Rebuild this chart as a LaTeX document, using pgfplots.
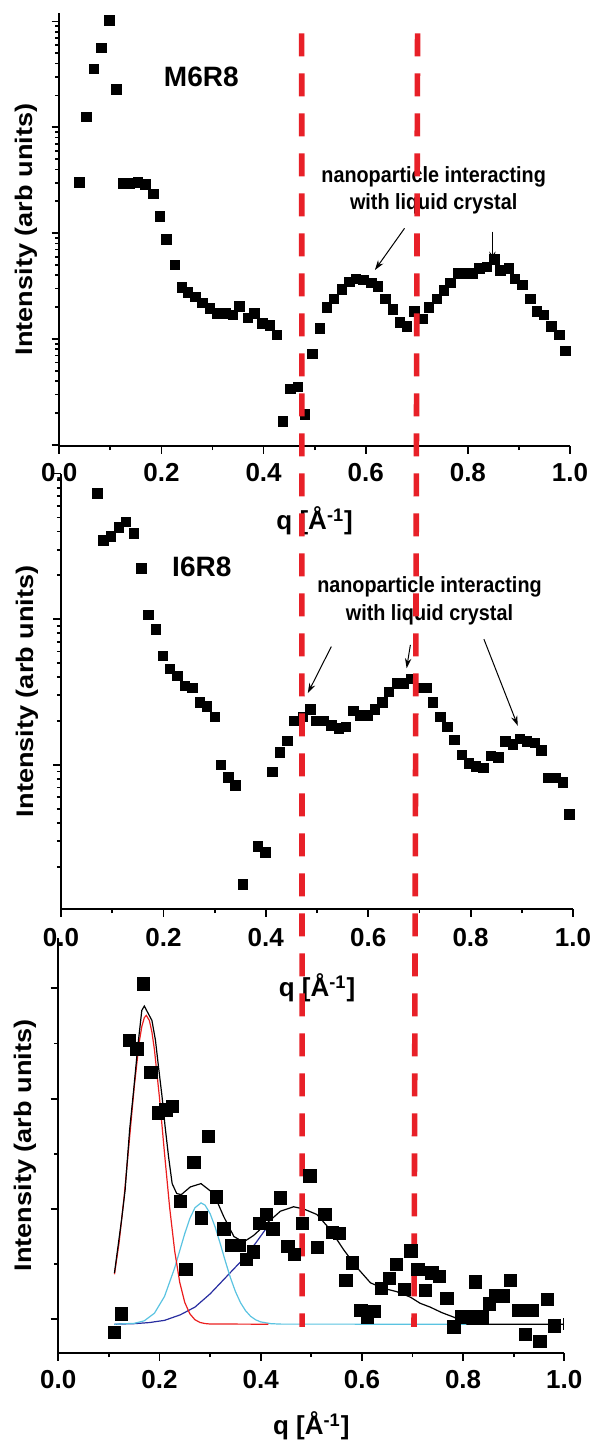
\documentclass[border=0pt]{standalone}
\usepackage{fontspec}
\setmainfont{Liberation Sans}
\newfontfamily\condfont[FakeStretch=0.9]{Liberation Sans}
\newfontfamily\widefont[FakeStretch=1.13]{Liberation Sans}
\usepackage{pgfplots}
\usepackage{pgfplotstable}
\pgfplotsset{compat=1.18}
\usetikzlibrary{arrows.meta}

\definecolor{dashred}{RGB}{232,32,40}
\definecolor{fitred}{RGB}{235,30,30}
\definecolor{fitcyan}{RGB}{90,195,225}
\definecolor{fitblue}{RGB}{40,45,160}

\newcommand{\TickFont}{\fontsize{13}{15}\selectfont\bfseries}
\newcommand{\NoteFont}{\condfont\fontsize{11}{13.6}\selectfont\bfseries}

\tikzset{
  note/.style={font=\NoteFont, align=center},
  pointer/.style={black, line width=0.5pt, -{Stealth[length=5pt, width=3.2pt]}},
}

\pgfplotsset{
  saxs panel/.style={
    scale only axis,
    xmin=0, xmax=1,
    axis x line*=bottom,
    axis y line*=left,
    axis line style={line width=0.9pt, -},
    tick style={line width=0.9pt, black},
    tick align=outside,
    major tick length=3.8pt,
    minor tick length=2.1pt,
    xtick={0,0.2,0.4,0.6,0.8,1},
    minor x tick num=1,
    xticklabel style={font=\TickFont, anchor=base, yshift=-14pt},
    /pgf/number format/fixed,
    /pgf/number format/precision=1,
    /pgf/number format/fixed zerofill,
    /pgf/number format/assume math mode=true,
    yticklabel={\relax},
    every axis x label/.style={at={(axis description cs:0.5,0)}, anchor=center,
      font=\fontsize{13}{15}\selectfont\bfseries},
    every axis y label/.style={at={(axis description cs:-0.065,0.5)}, rotate=90,
      anchor=center, font=\widefont\fontsize{12}{14}\selectfont\bfseries},
    xlabel={q [Å\textsuperscript{-1}]},
    ylabel={Intensity (arb units)},
    clip=false,
  },
}

% M6R8: q and log10 of intensity
\pgfplotstableread{
x l
0.039 1.48
0.053 2.10
0.068 2.55
0.082 2.75
0.098 3.01
0.112 2.36
0.125 1.47
0.138 1.47
0.154 1.48
0.169 1.46
0.184 1.37
0.197 1.16
0.210 0.94
0.226 0.70
0.240 0.49
0.252 0.44
0.266 0.40
0.280 0.34
0.295 0.29
0.310 0.24
0.325 0.24
0.340 0.23
0.353 0.31
0.369 0.20
0.382 0.24
0.398 0.15
0.412 0.13
0.426 0.04
0.438 -0.78
0.453 -0.47
0.467 -0.45
0.481 -0.71
0.496 -0.14
0.510 0.10
0.524 0.30
0.538 0.38
0.553 0.47
0.568 0.54
0.581 0.57
0.596 0.56
0.611 0.53
0.624 0.50
0.639 0.38
0.653 0.28
0.667 0.16
0.681 0.12
0.695 0.26
0.711 0.19
0.724 0.30
0.739 0.38
0.753 0.46
0.766 0.53
0.781 0.62
0.796 0.62
0.809 0.62
0.822 0.67
0.837 0.68
0.852 0.75
0.864 0.65
0.880 0.67
0.892 0.57
0.907 0.51
0.922 0.38
0.935 0.26
0.949 0.23
0.964 0.12
0.979 0.04
0.991 -0.11
}\mrdata

% I6R8: q and log10 of intensity
\pgfplotstableread{
x l
0.071 1.865
0.083 1.54
0.098 1.57
0.113 1.63
0.127 1.67
0.142 1.59
0.157 1.35
0.171 1.03
0.185 0.93
0.199 0.75
0.213 0.66
0.227 0.61
0.242 0.54
0.257 0.53
0.271 0.43
0.285 0.40
0.300 0.33
0.312 0.00
0.327 -0.085
0.341 -0.14
0.355 -0.82
0.385 -0.56
0.399 -0.60
0.413 -0.05
0.428 0.085
0.442 0.165
0.456 0.30
0.472 0.33
0.487 0.38
0.498 0.30
0.513 0.30
0.528 0.27
0.543 0.25
0.556 0.26
0.571 0.37
0.585 0.34
0.599 0.34
0.613 0.38
0.628 0.43
0.641 0.50
0.656 0.56
0.669 0.56
0.683 0.59
0.697 0.53
0.714 0.53
0.726 0.43
0.741 0.33
0.755 0.26
0.768 0.17
0.783 0.07
0.797 0.01
0.810 -0.01
0.825 -0.02
0.840 0.06
0.854 0.05
0.868 0.16
0.883 0.14
0.896 0.18
0.910 0.16
0.925 0.15
0.938 0.10
0.952 -0.09
0.966 -0.09
0.980 -0.12
0.993 -0.34
}\irdata

% third sample, linear intensity
\pgfplotstableread{
x y
0.111 -0.12
0.125 0.05
0.141 2.53
0.155 2.45
0.168 3.04
0.183 2.24
0.198 1.87
0.213 1.90
0.226 1.93
0.241 1.07
0.252 0.45
0.268 1.42
0.283 0.92
0.297 1.66
0.312 1.11
0.327 0.82
0.342 0.67
0.357 0.67
0.372 0.54
0.385 0.61
0.398 0.87
0.411 0.95
0.424 0.82
0.439 1.10
0.454 0.66
0.467 0.59
0.482 0.87
0.497 1.30
0.512 0.65
0.527 0.95
0.542 0.79
0.556 0.78
0.568 0.35
0.581 0.51
0.598 0.08
0.611 0.02
0.625 0.07
0.639 0.28
0.654 0.37
0.668 0.50
0.684 0.27
0.697 0.62
0.711 0.45
0.725 0.26
0.738 0.42
0.753 0.39
0.768 0.19
0.782 -0.07
0.797 0.02
0.812 0.02
0.824 0.34
0.838 0.02
0.852 0.14
0.865 0.21
0.880 0.21
0.894 0.35
0.909 0.08
0.923 -0.14
0.936 0.08
0.952 -0.20
0.966 0.18
0.980 -0.06
}\fitdata

\begin{document}
\begin{tikzpicture}
\useasboundingbox (0,0) rectangle (297pt,720pt);

% ---------------- M6R8 ----------------
\begin{axis}[saxs panel,
  at={(29.65pt,497pt)}, anchor=south west,
  width=255.35pt, height=216.5pt,
  ymin=-1.01, ymax=3.08,
  ytick={-1,0,1,2,3},
  minor ytick={-0.699,-0.523,-0.398,-0.301,-0.222,-0.155,-0.097,-0.046,
    0.301,0.477,0.602,0.699,0.778,0.845,0.903,0.954,
    1.301,1.477,1.602,1.699,1.778,1.845,1.903,1.954,
    2.301,2.477,2.602,2.699,2.778,2.845,2.903,2.954},
  xlabel style={yshift=-37.5pt},
]
\addplot[only marks, mark=square*, mark size=2.4pt, black] table[x=x, y=l] {\mrdata};
\node[font=\fontsize{14}{16}\selectfont\bfseries] at (axis cs:0.278,2.479) {M6R8};
\node[note] at (axis cs:0.733,1.405) {nanoparticle interacting\\with liquid crystal};
\draw[pointer] (axis cs:0.676,1.046) -- (axis cs:0.618,0.652);
\draw[pointer] (axis cs:0.848,1.014) -- (axis cs:0.848,0.731);
\end{axis}

% ---------------- I6R8 ----------------
\begin{axis}[saxs panel,
  at={(30.5pt,265.5pt)}, anchor=south west,
  width=256pt, height=217.7pt,
  ymin=-0.99, ymax=2,
  ytick={-1,0,1,2},
  minor ytick={-0.699,-0.523,-0.398,-0.301,-0.222,-0.155,-0.097,-0.046,
    0.301,0.477,0.602,0.699,0.778,0.845,0.903,0.954,
    1.301,1.477,1.602,1.699,1.778,1.845,1.903,1.954},
  xticklabel style={yshift=-1pt},
  xlabel style={yshift=-39.5pt},
]
\addplot[only marks, mark=square*, mark size=2.35pt, black] table[x=x, y=l] {\irdata};
\node[font=\fontsize{14}{16}\selectfont\bfseries] at (axis cs:0.275,1.361) {I6R8};
\node[note] at (axis cs:0.7197,1.127) {nanoparticle interacting\\with liquid crystal};
\draw[pointer] (axis cs:0.528,0.812) -- (axis cs:0.482,0.492);
\draw[pointer] (axis cs:0.6824,0.824) -- (axis cs:0.675,0.663);
\draw[pointer] (axis cs:0.826,0.863) -- (axis cs:0.8922,0.268);
\end{axis}

% ---------------- fitted sample ----------------
\begin{axis}[saxs panel,
  at={(29.15pt,43.5pt)}, anchor=south west,
  width=253pt, height=207.5pt,
  ymin=-0.306, ymax=3.457,
  ytick={0,1,2,3},
  minor y tick num=1,
  xlabel style={yshift=-36.5pt},
]
\addplot[only marks, mark=square*, mark size=3.1pt, black] table[x=x, y=y] {\fitdata};
% fit components
\addplot[fitblue, line width=0.6pt] coordinates {
  (0.111,-0.045) (0.15,-0.040) (0.18,-0.030) (0.21,-0.010) (0.241,0.040)
  (0.27,0.110) (0.30,0.230) (0.33,0.375) (0.36,0.520) (0.39,0.690) (0.415,0.850)
};
\addplot[fitcyan, line width=0.6pt] coordinates {
  (0.111,-0.045) (0.15,-0.037) (0.17,-0.014) (0.19,0.055) (0.21,0.208)
  (0.23,0.466) (0.24,0.622) (0.25,0.778) (0.26,0.914) (0.27,1.011)
  (0.282,1.055) (0.29,1.035) (0.30,0.958) (0.31,0.836) (0.32,0.686)
  (0.33,0.528) (0.34,0.379) (0.35,0.252) (0.36,0.151) (0.37,0.078)
  (0.38,0.027) (0.39,-0.005) (0.40,-0.024) (0.42,-0.040) (0.44,-0.044)
  (0.808,-0.045)
};
\addplot[fitred, line width=0.6pt] coordinates {
  (0.111,0.408) (0.12,0.689) (0.13,1.106) (0.14,1.601) (0.15,2.104)
  (0.16,2.514) (0.165,2.653) (0.17,2.735) (0.174,2.755) (0.18,2.709)
  (0.185,2.604) (0.19,2.444) (0.20,2.007) (0.21,1.499) (0.22,1.015)
  (0.23,0.619) (0.24,0.334) (0.25,0.152) (0.26,0.049) (0.27,-0.004)
  (0.28,-0.029) (0.29,-0.039) (0.30,-0.043) (0.415,-0.045)
};
\addplot[black, line width=0.6pt] coordinates {
  (0.111,0.42) (0.118,0.66) (0.125,0.90) (0.132,1.17) (0.141,1.72)
  (0.149,2.08) (0.157,2.47) (0.165,2.80) (0.170,2.84) (0.178,2.77)
  (0.185,2.71) (0.192,2.53) (0.198,2.29) (0.205,2.02) (0.211,1.75)
  (0.218,1.47) (0.225,1.23) (0.234,1.14) (0.243,1.13) (0.261,1.20)
  (0.282,1.23) (0.307,1.14) (0.327,0.93) (0.347,0.75) (0.366,0.70)
  (0.386,0.76) (0.412,0.87) (0.439,0.98) (0.465,1.02) (0.485,1.00)
  (0.511,0.95) (0.538,0.81) (0.564,0.63) (0.590,0.47) (0.617,0.33)
  (0.643,0.28) (0.669,0.25) (0.696,0.20) (0.715,0.145) (0.735,0.11)
  (0.758,0.06) (0.781,0.02) (0.795,-0.01) (0.808,-0.045) (0.999,-0.045)
};
\addplot[black, line width=0.6pt] coordinates {(0.999,0.01) (0.999,-0.10)};
% red guide lines running through all three panels
\addplot[dashred, line width=2.8pt, dash pattern=on 11.5pt off 8.5pt]
  coordinates {(0.481,11.66) (0.482,-0.07)};
\addplot[dashred, line width=2.8pt, dash pattern=on 11.5pt off 8.5pt]
  coordinates {(0.710,11.66) (0.703,-0.07)};
\end{axis}
\end{tikzpicture}
\end{document}
